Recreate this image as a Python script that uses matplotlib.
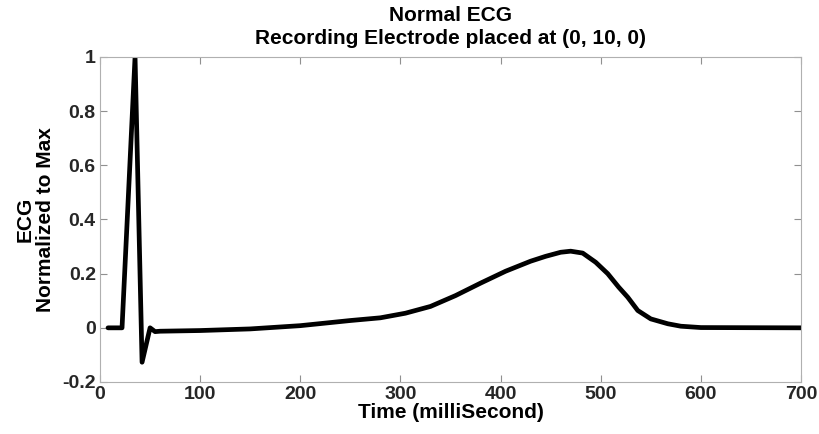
import matplotlib
matplotlib.use("Agg")
import matplotlib.pyplot as plt

time_ms = [8, 22, 35, 42, 50, 55, 60, 100, 150, 200, 250, 280, 305, 330, 355, 380,
           405, 430, 445, 460, 470, 482, 495, 507, 518, 527, 537, 550, 567, 580, 600, 700]
ecg = [0.0, 0.0, 1.0, -0.127, 0.0, -0.014, -0.0125, -0.01, -0.004, 0.008, 0.027, 0.037,
       0.054, 0.079, 0.119, 0.165, 0.209, 0.246, 0.264, 0.279, 0.283, 0.276, 0.242, 0.2,
       0.15, 0.113, 0.064, 0.033, 0.015, 0.006, 0.001, 0.0]

x_ticks = [0, 100, 200, 300, 400, 500, 600, 700]
y_ticks = [-0.2, 0, 0.2, 0.4, 0.6, 0.8, 1]
y_tick_labels = ["-0.2", "0", "0.2", "0.4", "0.6", "0.8", "1"]

plt.rcParams["font.family"] = ["Liberation Sans", "DejaVu Sans"]
plt.rcParams["font.weight"] = "bold"

fig = plt.figure(figsize=(8.19, 4.34), dpi=100)
ax = fig.add_axes([100/819, 1 - 382/434, 701/819, 325/434])

ax.plot(time_ms, ecg, color="black", linewidth=3.4, solid_joinstyle="round",
        solid_capstyle="round")

ax.set_xlim(0, 700)
ax.set_ylim(-0.2, 1)
ax.set_xticks(x_ticks)
ax.set_xticklabels([str(v) for v in x_ticks])
ax.set_yticks(y_ticks)
ax.set_yticklabels(y_tick_labels)

for s in ax.spines.values():
    s.set_color("#b0b0b0")
    s.set_linewidth(0.8)
ax.tick_params(direction="in", top=True, right=True, color="#909090", length=5,
               labelsize=14, labelcolor="#262626", pad=3)
for lab in ax.get_xticklabels() + ax.get_yticklabels():
    lab.set_fontweight("bold")

ax.set_title("Normal ECG\nRecording Electrode placed at (0, 10, 0)", fontsize=15,
             fontweight="bold", color="black", pad=9, linespacing=1.3)
ax.set_xlabel("Time (milliSecond)", fontsize=15, fontweight="bold", labelpad=0)
ax.set_ylabel("ECG\nNormalized to Max", fontsize=15, fontweight="bold", labelpad=5,
              linespacing=1.15)

fig.savefig("out.png", dpi=100, facecolor="white")
